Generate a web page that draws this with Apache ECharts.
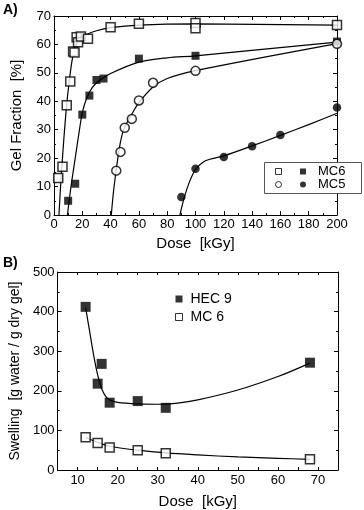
<!DOCTYPE html>
<html>
<head>
<meta charset="utf-8">
<script src="https://cdn.jsdelivr.net/npm/echarts@6/dist/echarts.min.js"></script>
<style>
  html, body { margin: 0; padding: 0; background: #fff; }
  #chart { width: 364px; height: 510px; }
</style>
</head>
<body>
<div id="chart"></div>
<script>
// A) gel fraction vs dose
var mc6Open = [[3, 13], [6, 17], [9, 38.6], [11.5, 47], [13.5, 57.5], [14.5, 57.2], [16, 62.5], [17, 60.8], [19, 62.8], [24, 62], [40, 66], [60, 67.3], [100, 67.5], [100, 65.7], [200, 66.8]];
var mc6Filled = [[10, 5], [15, 11], [20, 35.3], [25, 42], [30, 47.5], [35, 48], [60, 55], [100, 56], [200, 61]];
var mc5Open = [[44, 15.6], [47, 22.2], [50, 30.7], [55, 33.8], [60, 40.3], [70, 46.5], [100, 50.7], [200, 60.2]];
var mc5Filled = [[90, 6.3], [100, 16.3], [120, 20.4], [140, 24.2], [160, 28.1], [200, 37.8]];

// fit curves
var fitMc6Open = [[3.5, 0], [5, 13], [7, 27], [9, 39], [11, 48], [13, 55], [15, 59], [18, 61.8], [22, 63.3], [30, 64.8], [40, 65.9], [60, 66.8], [100, 67.2], [200, 66.8]];
var fitMc6Filled = [[9.5, 0], [12, 10], [15, 20], [18, 30], [20, 36], [23, 41], [27, 44.8], [32, 47.3], [40, 49.8], [60, 53.8], [80, 55.3], [100, 56], [200, 60.8]];
var fitMc5Open = [[40.5, 0], [42, 8], [44, 16], [46, 23], [48, 28], [50, 31], [55, 35.5], [60, 39.5], [70, 45], [80, 48], [100, 50.8], [200, 60.3]];
var fitMc5Filled = [[89, 0], [92, 6], [96, 12], [100, 16], [105, 18.5], [110, 19.6], [120, 20.8], [140, 24.3], [160, 28], [180, 31.8], [200, 35.8]];

// B) swelling vs dose
var hec9 = [[12, 412], [15, 218], [16, 268], [18, 170], [25, 174], [32, 157], [68, 271]];
var mc6Swell = [[12, 83], [15, 68], [18, 57], [25, 50], [32, 42], [68, 27]];
var fitHec9 = [[12, 410], [13, 350], [14, 290], [15, 240], [16, 205], [17, 186], [18, 177], [20, 171], [25, 167], [30, 166], [35, 169], [40, 177], [50, 202], [60, 236], [68, 270]];
var fitMc6Swell = [[12, 82], [15, 70], [18, 60], [25, 50], [32, 43], [40, 38], [50, 33], [60, 29.5], [68, 27]];

var FONT = 'Liberation Sans';
var black = '#000';

function frameAxis(extra) {
    var ax = {
        axisLine: { show: true, onZero: false, lineStyle: { color: black, width: 1 } },
        axisTick: { show: true, inside: true, length: 4, lineStyle: { color: black } },
        minorTick: { show: true, splitNumber: 2, length: 2, lineStyle: { color: black } },
        splitLine: { show: false },
        axisLabel: { color: black, fontFamily: FONT, fontSize: 13, margin: 3 },
        nameTextStyle: { color: black, fontFamily: FONT, fontSize: 15 }
    };
    return Object.assign(ax, extra);
}
function mirror(ax) {
    ax.axisLabel = { show: false };
    ax.name = '';
    return ax;
}

function fit(data, xi, yi) {
    return {
        type: 'line', data: data, xAxisIndex: xi, yAxisIndex: yi,
        showSymbol: false, smooth: 0.3, silent: true,
        lineStyle: { color: black, width: 1.2 }, z: 1
    };
}
function pts(name, data, xi, yi, symbol, size, open) {
    return {
        name: name, type: 'scatter', data: data, xAxisIndex: xi, yAxisIndex: yi,
        symbol: symbol, symbolSize: size, z: 3,
        itemStyle: open ? { color: '#fff', borderColor: black, borderWidth: 1.5 } : { color: black }
    };
}

var chart = echarts.init(document.getElementById('chart'));
var option = {
    backgroundColor: '#fff',
    animation: false,
    grid: [
        { left: 54, top: 16, width: 283, height: 199 },
        { left: 54, top: 272, width: 284, height: 199 }
    ],
    xAxis: [
        frameAxis({ gridIndex: 0, type: 'value', min: 0, max: 200, interval: 20, position: 'bottom',
            name: 'Dose  [kGy]', nameLocation: 'middle', nameGap: 21 }),
        mirror(frameAxis({ gridIndex: 0, type: 'value', min: 0, max: 200, interval: 20, position: 'top' })),
        frameAxis({ gridIndex: 1, type: 'value', min: 5, max: 75, interval: 5, position: 'bottom',
            minorTick: { show: false },
            axisTick: { show: true, inside: true, length: 3, lineStyle: { color: black } },
            axisLabel: { color: black, fontFamily: FONT, fontSize: 13, margin: 4,
                formatter: function (v) { return v % 10 === 0 ? String(v) : ''; } },
            name: 'Dose  [kGy]', nameLocation: 'middle', nameGap: 24 }),
        mirror(frameAxis({ gridIndex: 1, type: 'value', min: 5, max: 75, interval: 5, position: 'top',
            minorTick: { show: false },
            axisTick: { show: true, inside: true, length: 3, lineStyle: { color: black } } }))
    ],
    yAxis: [
        frameAxis({ gridIndex: 0, type: 'value', min: 0, max: 70, interval: 10, position: 'left',
            name: 'Gel Fraction  [%]', nameLocation: 'middle', nameGap: 30 }),
        mirror(frameAxis({ gridIndex: 0, type: 'value', min: 0, max: 70, interval: 10, position: 'right' })),
        frameAxis({ gridIndex: 1, type: 'value', min: 0, max: 500, interval: 100, position: 'left',
            name: 'Swelling  [g water / g dry gel]', nameLocation: 'middle', nameGap: 33,
            nameTextStyle: { color: black, fontFamily: FONT, fontSize: 14 } }),
        mirror(frameAxis({ gridIndex: 1, type: 'value', min: 0, max: 500, interval: 100, position: 'right' }))
    ],
    legend: [
        { data: [{ name: 'MC6o', icon: 'rect' }, { name: 'MC5o', icon: 'circle' }],
          orient: 'vertical', left: 275, top: 165, itemGap: 0, padding: 0,
          itemWidth: 6, itemHeight: 6, selectedMode: false, z: 10,
          itemStyle: { borderWidth: 1 },
          textStyle: { color: 'rgba(0,0,0,0)', fontFamily: FONT, fontSize: 13 } },
        { data: [{ name: 'MC6', icon: 'rect' }, { name: 'MC5', icon: 'circle' }],
          orient: 'vertical', left: 300, top: 165, itemGap: 0, padding: 0,
          itemWidth: 6, itemHeight: 6, selectedMode: false, z: 10,
          textStyle: { color: black, fontFamily: FONT, fontSize: 13, padding: [0, 0, 0, 7] } },
        { data: [{ name: 'HEC 9', icon: 'rect' }, { name: 'MC 6', icon: 'rect' }],
          orient: 'vertical', left: 175, top: 292, itemGap: 4, padding: 0,
          itemWidth: 7, itemHeight: 7, selectedMode: false, z: 10,
          itemStyle: { borderWidth: 1 },
          textStyle: { color: black, fontFamily: FONT, fontSize: 14, padding: [0, 0, 0, 3] } }
    ],
    graphic: [
        { type: 'rect', z: 8, shape: { x: 264.5, y: 162.5, width: 97, height: 31 },
          style: { fill: '#fff', stroke: '#555', lineWidth: 1 } },
        { type: 'text', left: 3, top: 3, style: { text: 'A)', font: 'bold 14px Liberation Sans', fill: black } },
        { type: 'text', left: 3, top: 256, style: { text: 'B)', font: 'bold 14px Liberation Sans', fill: black } }
    ],
    series: [
        fit(fitMc6Open, 0, 0),
        fit(fitMc6Filled, 0, 0),
        fit(fitMc5Open, 0, 0),
        fit(fitMc5Filled, 0, 0),
        pts('MC6o', mc6Open, 0, 0, 'rect', 9, true),
        pts('MC6', mc6Filled, 0, 0, 'rect', 8, false),
        pts('MC5o', mc5Open, 0, 0, 'circle', 9, true),
        pts('MC5', mc5Filled, 0, 0, 'circle', 8.5, false),
        fit(fitHec9, 2, 2),
        fit(fitMc6Swell, 2, 2),
        pts('HEC 9', hec9, 2, 2, 'rect', 10, false),
        pts('MC 6', mc6Swell, 2, 2, 'rect', 9, true)
    ]
};
chart.setOption(option);
window.addEventListener('resize', function () {
    chart.resize();
});
</script>
</body>
</html>
